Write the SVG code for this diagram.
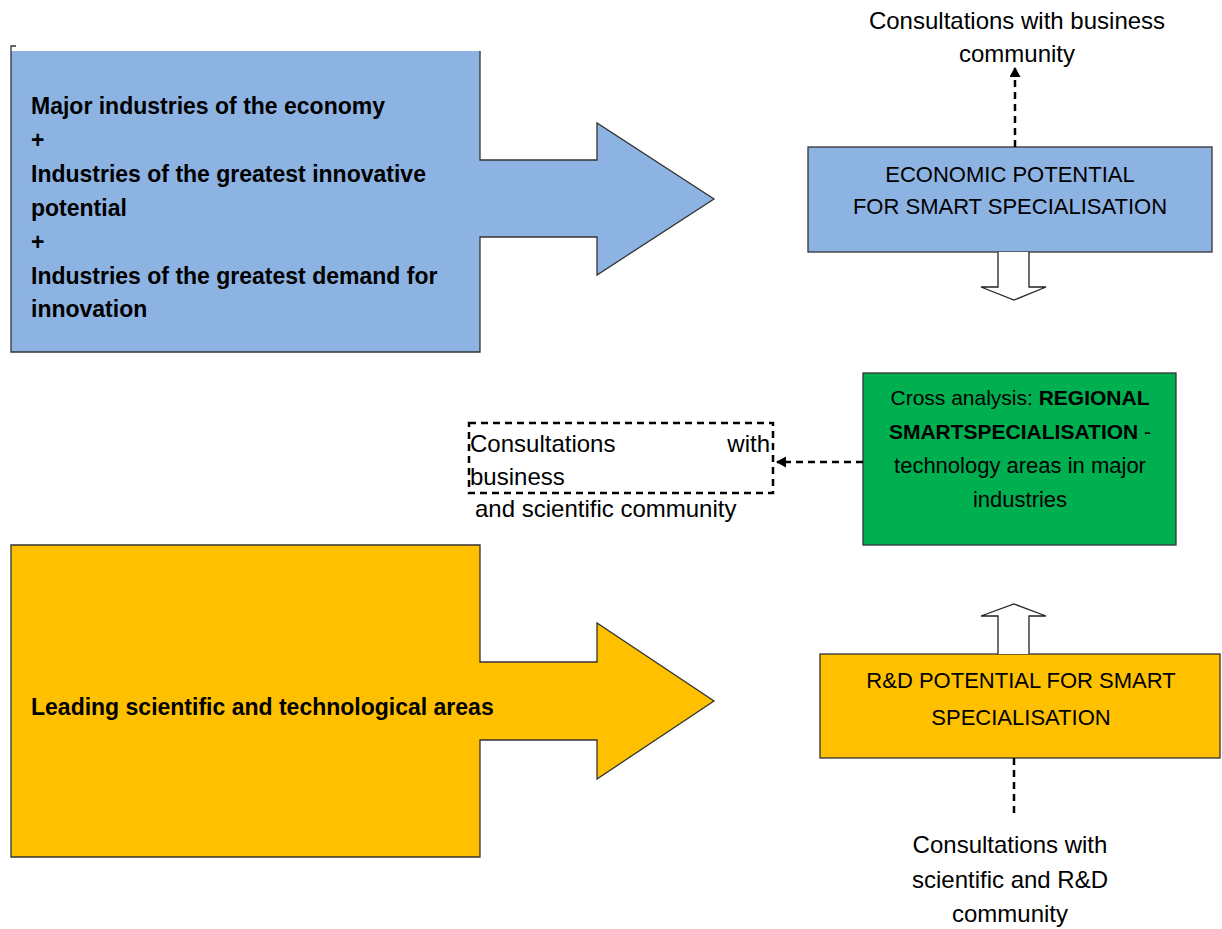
<svg xmlns="http://www.w3.org/2000/svg" width="1222" height="929" viewBox="0 0 1222 929">
<style>
.shape{stroke:#333;stroke-width:1.3}
.blue{fill:#8DB3E2}
.orange{fill:#FFC000}
.green{fill:#00B050}
.nostroke{stroke:none}
text{font-family:"Liberation Sans",Arial,sans-serif;fill:#000}
.b{font-weight:bold;font-size:23px}
.c{text-anchor:middle}
.dash{stroke:#000;stroke-width:2.5;stroke-dasharray:7,5;fill:none}
</style>
<defs>
<marker id="ah" markerWidth="12" markerHeight="12" refX="9" refY="5.5" orient="auto" markerUnits="userSpaceOnUse">
<path d="M0,0 L10,5.5 L0,11 Z" fill="#000"/>
</marker>
</defs>

<g id="blue-arrow">
<path class="blue nostroke" d="M11,51 L480,51 L480,160 L597,160 L597,123 L714,199 L597,275 L597,237 L480,237 L480,352 L11,352 Z"/>
<path d="M480,51 L480,160 L597,160 L597,123 L714,199 L597,275 L597,237 L480,237 L480,352 L11,352 L11,46 L16,46" fill="none" stroke="#333" stroke-width="1.3"/>
<text class="b" x="31" y="114">Major industries of the economy</text>
<text class="b" x="31" y="148">+</text>
<text class="b" x="31" y="182">Industries of the greatest innovative</text>
<text class="b" x="31" y="216">potential</text>
<text class="b" x="31" y="250">+</text>
<text class="b" x="31" y="284">Industries of the greatest demand for</text>
<text class="b" x="31" y="317">innovation</text>
</g>

<g id="orange-arrow">
<path class="shape orange" d="M11,545 L480,545 L480,662 L597,662 L597,623 L714,701 L597,779 L597,740 L480,740 L480,857 L11,857 Z"/>
<text class="b" x="31" y="715">Leading scientific and technological areas</text>
</g>

<g id="economic">
<rect class="shape blue" x="808" y="147" width="404" height="105"/>
<text class="c" x="1010" y="182" font-size="22">ECONOMIC POTENTIAL</text>
<text class="c" x="1010" y="214" font-size="22">FOR SMART SPECIALISATION</text>
</g>

<g id="cross">
<rect class="shape green" x="863" y="373" width="313" height="172"/>
<text class="c" x="1020" y="405" font-size="21">Cross analysis: <tspan font-weight="bold">REGIONAL</tspan></text>
<text class="c" x="1020" y="439" font-size="21"><tspan font-weight="bold">SMARTSPECIALISATION</tspan> -</text>
<text class="c" x="1020" y="473" font-size="22">technology areas in major</text>
<text class="c" x="1020" y="507" font-size="22">industries</text>
</g>

<g id="rd">
<rect class="shape orange" x="820" y="654" width="400" height="104"/>
<text class="c" x="1021" y="688" font-size="22">R&amp;D POTENTIAL FOR SMART</text>
<text class="c" x="1021" y="725" font-size="22">SPECIALISATION</text>
</g>

<g id="consult-top">
<text class="c" x="1017" y="29" font-size="24">Consultations with business</text>
<text class="c" x="1017" y="62" font-size="24">community</text>
</g>

<g id="consult-mid">
<rect x="469" y="423" width="304" height="70" class="dash" stroke-width="1.8" stroke-dasharray="5,3"/>
<text x="470" y="452" font-size="24">Consultations</text>
<text x="770" y="452" font-size="24" text-anchor="end">with</text>
<text x="470" y="485" font-size="24">business</text>
<text x="475" y="517" font-size="24">and scientific community</text>
</g>

<g id="consult-bottom">
<text class="c" x="1010" y="853" font-size="24">Consultations with</text>
<text class="c" x="1010" y="888" font-size="24">scientific and R&amp;D</text>
<text class="c" x="1010" y="922" font-size="24">community</text>
</g>

<g id="connectors">
<line class="dash" x1="1015" y1="147" x2="1015" y2="68" marker-end="url(#ah)"/>
<line class="dash" x1="863" y1="462" x2="777" y2="462" marker-end="url(#ah)"/>
<line class="dash" x1="1014" y1="758" x2="1014" y2="818"/>
<path d="M998,252 L998,287 L981,287 L1014,300 L1046,287 L1029,287 L1029,252" fill="#fff" stroke="#222" stroke-width="1.3"/>
<path d="M998,654 L998,616 L981,616 L1014,604 L1046,616 L1029,616 L1029,654" fill="#fff" stroke="#222" stroke-width="1.3"/>
</g>
</svg>
